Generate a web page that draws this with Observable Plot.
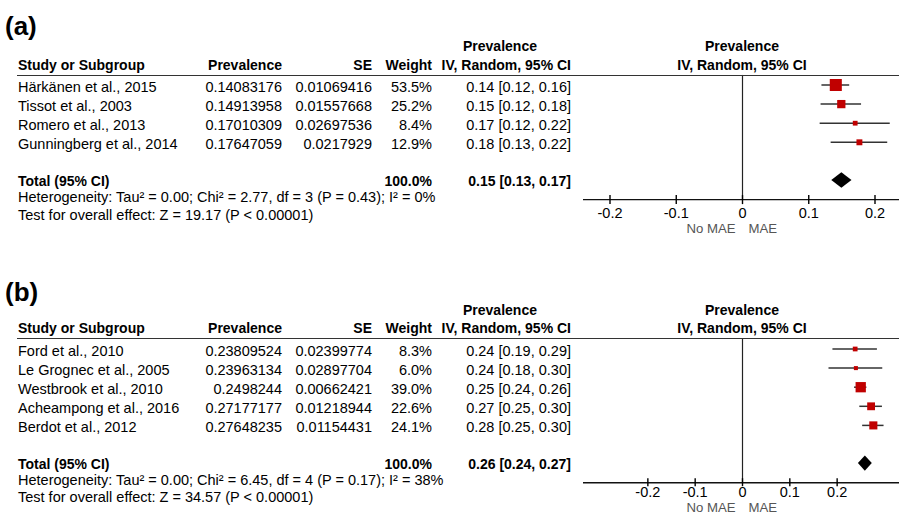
<!DOCTYPE html>
<html><head><meta charset="utf-8">
<script src="https://cdn.jsdelivr.net/npm/d3@7"></script>
<script src="https://cdn.jsdelivr.net/npm/@observablehq/plot@0.6"></script>
<style>
body{margin:0;background:#fff;}
#chart{position:relative;width:899px;height:515px;overflow:hidden;font-family:"Liberation Sans",Arial,sans-serif;color:#000;}
.panel{position:absolute;left:0;width:899px;}
.panel svg{position:absolute;left:0;top:0;}
.t{position:absolute;white-space:nowrap;font-size:14.5px;line-height:18px;}
.b{font-weight:bold;font-size:14px;}
.lab{font-weight:bold;font-size:26px;line-height:30px;}
.hl{position:absolute;left:17px;width:882px;height:0;border-top:1.5px solid #333;}
</style></head><body><div id="chart"></div>
<script>
// ---- Panel (a) data ----
const studiesA = ["Härkänen et al., 2015", "Tissot et al., 2003", "Romero et al., 2013", "Gunningberg et al., 2014"];
const prevA = [0.14083176, 0.14913958, 0.17010309, 0.17647059];
const seA = [0.01069416, 0.01557668, 0.02697536, 0.0217929];
const weightA = [53.5, 25.2, 8.4, 12.9];
const lowerA = [0.1199, 0.1186, 0.1172, 0.1338];
const upperA = [0.1618, 0.1797, 0.2230, 0.2192];
const ciLabelsA = ["0.14 [0.12, 0.16]", "0.15 [0.12, 0.18]", "0.17 [0.12, 0.22]", "0.18 [0.13, 0.22]"];
const totalA = [0.1500, 0.1347, 0.1653]; // estimate, lower, upper
const totalLabelA = "0.15 [0.13, 0.17]";
const hetA = "Heterogeneity: Tau² = 0.00; Chi² = 2.77, df = 3 (P = 0.43); I² = 0%";
const testA = "Test for overall effect: Z = 19.17 (P < 0.00001)";
const domainA = [-0.24, 0.24];

// ---- Panel (b) data ----
const studiesB = ["Ford et al., 2010", "Le Grognec et al., 2005", "Westbrook et al., 2010", "Acheampong et al., 2016", "Berdot et al., 2012"];
const prevB = [0.23809524, 0.23963134, 0.2498244, 0.27177177, 0.27648235];
const seB = [0.02399774, 0.02897704, 0.00662421, 0.01218944, 0.01154431];
const weightB = [8.3, 6.0, 39.0, 22.6, 24.1];
const lowerB = [0.1911, 0.1828, 0.2368, 0.2479, 0.2539];
const upperB = [0.2851, 0.2964, 0.2628, 0.2957, 0.2991];
const ciLabelsB = ["0.24 [0.19, 0.29]", "0.24 [0.18, 0.30]", "0.25 [0.24, 0.26]", "0.27 [0.25, 0.30]", "0.28 [0.25, 0.30]"];
const totalB = [0.2596, 0.2449, 0.2743];
const totalLabelB = "0.26 [0.24, 0.27]";
const hetB = "Heterogeneity: Tau² = 0.00; Chi² = 6.45, df = 4 (P = 0.17); I² = 38%";
const testB = "Test for overall effect: Z = 34.57 (P < 0.00001)";
const domainB = [-0.336, 0.336];

const tickValues = [-0.2, -0.1, 0, 0.1, 0.2];
const headers = {study: "Study or Subgroup", prev: "Prevalence", se: "SE", weight: "Weight", iv: "IV, Random, 95% CI"};

const LH = 18;
function txt(parent, s, x, yc, align, cls, lh) {
  const h = lh || LH;
  const d = document.createElement("div");
  d.className = "t" + (cls ? " " + cls : "");
  d.textContent = s;
  d.style.top = (yc - h / 2) + "px";
  if (align === "left") d.style.left = x + "px";
  else if (align === "right") { d.style.left = (x - 400) + "px"; d.style.width = "400px"; d.style.textAlign = "right"; }
  else { d.style.left = (x - 200) + "px"; d.style.width = "400px"; d.style.textAlign = "center"; }
  parent.appendChild(d);
}

function panel(top, height, o) {
  const root = document.getElementById("chart");
  const p = document.createElement("div");
  p.className = "panel";
  p.style.top = top + "px";
  p.style.height = height + "px";
  root.appendChild(p);

  const n = o.studies.length;
  const rows = o.studies.map((s, i) => ({study: s, prev: o.prev[i], se: o.se[i], w: o.weight[i], lo: o.lower[i], hi: o.upper[i], row: i}));
  const totalRow = n + 1, axisRow = n + 2;
  const y0 = 84.5, step = 19.1;
  const axisY = y0 + axisRow * step;
  const h = 0.4;
  const diamond = [
    {x: o.total[1], ya: totalRow, yb: totalRow},
    {x: o.total[0], ya: totalRow - h, yb: totalRow + h},
    {x: o.total[2], ya: totalRow, yb: totalRow}
  ];

  const plot = Plot.plot({
    width: 899, height,
    marginLeft: 583, marginRight: 0, marginTop: 0, marginBottom: height - (axisY - 4),
    x: {domain: o.domain, range: [583, 901]},
    y: {domain: [0, axisRow], range: [y0, axisY], axis: null},
    r: {type: "sqrt", domain: [0, 100], range: [0, 9.3]},
    style: {fontFamily: "Liberation Sans, Arial, sans-serif", fontSize: "14.5px", background: "transparent", overflow: "visible", color: "#000"},
    marks: [
      Plot.ruleX([0], {y1: -0.5, y2: axisRow, stroke: "#222", strokeWidth: 1.2}),
      Plot.ruleY([axisRow], {stroke: "#111", strokeWidth: 1.4}),
      Plot.axisX({ticks: tickValues, tickFormat: d => String(d), tickSize: o.tickSize, tickPadding: o.tickPad, fontSize: 14.5, strokeWidth: 1.4}),
      Plot.ruleY(rows, {y: "row", x1: "lo", x2: "hi", stroke: "#333", strokeWidth: 1.5}),
      Plot.dot(rows, {x: "prev", y: "row", r: "w", symbol: "square", fill: "#c00000", stroke: null}),
      Plot.area(diamond, {x1: "x", y1: "ya", y2: "yb", fill: "#000", curve: "linear"}),
      Plot.text(["No MAE"], {text: d => d, x: 0, y: axisRow, dx: -7, dy: o.noteDy, textAnchor: "end", fill: "#555", fontSize: 13.2}),
      Plot.text(["MAE"], {text: d => d, x: 0, y: axisRow, dx: 6, dy: o.noteDy, textAnchor: "start", fill: "#555", fontSize: 13.2})
    ]
  });
  p.appendChild(plot);

  // label
  txt(p, o.label, 5, o.labelY, "left", "lab", 30);
  // headers
  txt(p, headers.prev, 500, 46, "center", "b");
  txt(p, headers.prev, 742, 46, "center", "b");
  txt(p, headers.study, 18, 64.5, "left", "b");
  txt(p, headers.prev, 282, 64.5, "right", "b");
  txt(p, headers.se, 372, 64.5, "right", "b");
  txt(p, headers.weight, 432, 64.5, "right", "b");
  txt(p, headers.iv, 571, 64.5, "right", "b");
  txt(p, headers.iv, 742, 64.5, "center", "b");
  const hl = document.createElement("div");
  hl.className = "hl";
  hl.style.top = "74.5px";
  p.appendChild(hl);

  rows.forEach((r, i) => {
    const yc = y0 + 2.5 + i * step;
    txt(p, r.study, 18, yc, "left");
    txt(p, String(r.prev), 282, yc, "right");
    txt(p, String(r.se), 372, yc, "right");
    txt(p, r.w.toFixed(1) + "%", 432, yc, "right");
    txt(p, o.ciLabels[i], 571, yc, "right");
  });
  const ty = y0 + 1 + totalRow * step;
  txt(p, "Total (95% CI)", 18, ty, "left", "b");
  txt(p, "100.0%", 432, ty, "right", "b");
  txt(p, o.totalLabel, 571, ty, "right", "b");
  txt(p, o.het, 18, ty + 16, "left");
  txt(p, o.test, 18, ty + 33.5, "left");
}

panel(0, 263, {label: "(a)", labelY: 26, studies: studiesA, prev: prevA, se: seA, weight: weightA, lower: lowerA, upper: upperA,
  ciLabels: ciLabelsA, total: totalA, totalLabel: totalLabelA, het: hetA, test: testA, domain: domainA, tickSize: 9, tickPad: 3, noteDy: 29});
panel(263.5, 251.5, {label: "(b)", labelY: 28.5, studies: studiesB, prev: prevB, se: seB, weight: weightB, lower: lowerB, upper: upperB,
  ciLabels: ciLabelsB, total: totalB, totalLabel: totalLabelB, het: hetB, test: testB, domain: domainB, tickSize: 8, tickPad: 0, noteDy: 25.5});
</script></body></html>
